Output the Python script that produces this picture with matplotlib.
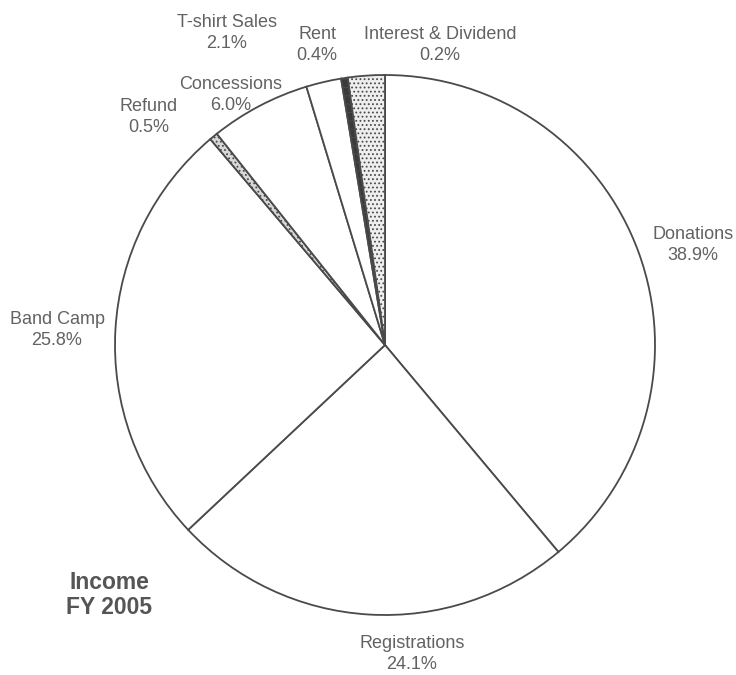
import matplotlib
matplotlib.use("Agg")
import matplotlib.pyplot as plt

plt.rcParams['font.family'] = ['Liberation Sans', 'DejaVu Sans']
plt.rcParams['hatch.linewidth'] = 0.8

# slice sizes as drawn (clockwise from 12 o'clock)
categories = ["Donations", "Registrations", "Band Camp", "Refund",
              "Concessions", "T-shirt Sales", "Rent", "Interest & Dividend"]
values = [38.9, 24.1, 25.8, 0.5, 6.0, 2.1, 0.4, 2.2]
# percentages as printed on the chart
pct_labels = ["38.9%", "24.1%", "25.8%", "0.5%", "6.0%", "2.1%", "0.4%", "0.2%"]

faces = ["white", "white", "white", "#d8d8d8", "white", "white", "#3a3a3a", "#eeeeee"]
hatches = [None, None, None, "....", None, None, "--", "...."]
# label centres in pixel coordinates of the 736x675 image
label_px = [(693, 245), (412, 654), (57, 330), (149, 117),
            (231, 95), (227, 33), (317, 45), (440, 45)]

W, H = 736, 675
cx, cy, R = 385, 345, 270

def px2data(px, py):
    return (px - cx) / R, (cy - py) / R

fig = plt.figure(figsize=(W / 100, H / 100), dpi=100)
ax = fig.add_axes([0, 0, 1, 1])

wedges, _ = ax.pie(values, startangle=90, counterclock=False, radius=1.0,
                   colors=faces,
                   wedgeprops=dict(edgecolor="#4a4a4a", linewidth=1.3))
for w, h in zip(wedges, hatches):
    if h:
        w.set_hatch(h)

# pie() resets the limits, so set them afterwards
ax.set_xlim(-cx / R, (W - cx) / R)
ax.set_ylim((cy - H) / R, cy / R)
ax.set_aspect('auto')
ax.axis('off')

text_color = "#626262"
for name, pct, (px, py) in zip(categories, pct_labels, label_px):
    x, y = px2data(px, py)
    ax.text(x, y, name + "\n" + pct, ha="center", va="center",
            fontsize=13, color=text_color, linespacing=1.3)

tx, ty = px2data(109, 595)
ax.text(tx, ty, "Income\nFY 2005", ha="center", va="center",
        fontsize=16.5, fontweight="bold", color="#555555", linespacing=1.1)

fig.savefig("out.png", dpi=100, facecolor="white")
